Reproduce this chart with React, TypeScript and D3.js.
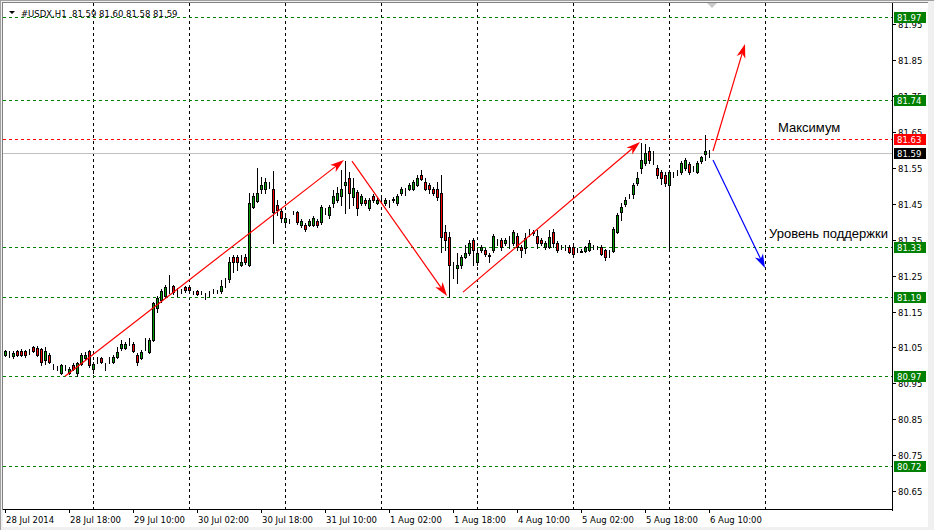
import React from "react";
import * as d3 from "d3";

const openP = [81.029,81.035,81.026,81.040,81.040,81.040,81.037,81.051,81.048,81.046,81.015,81.029,80.996,80.990,80.979,80.990,80.979,81.001,80.979,81.004,81.021,81.040,80.990,81.015,81.021,81.001,81.015,81.010,81.023,81.048,81.048,81.068,81.060,81.029,81.021,81.051,81.037,81.071,81.160,81.182,81.193,81.210,81.221,81.204,81.207,81.218,81.218,81.202,81.207,81.202,81.193,81.202,81.207,81.204,81.207,81.229,81.241,81.302,81.302,81.280,81.302,81.280,81.441,81.458,81.491,81.491,81.502,81.491,81.447,81.430,81.399,81.399,81.424,81.427,81.391,81.391,81.391,81.391,81.402,81.399,81.427,81.419,81.452,81.461,81.472,81.502,81.522,81.469,81.483,81.452,81.461,81.438,81.472,81.452,81.458,81.452,81.452,81.461,81.452,81.480,81.483,81.491,81.491,81.502,81.530,81.511,81.502,81.491,81.491,81.480,81.371,81.357,81.271,81.271,81.280,81.302,81.313,81.349,81.288,81.321,81.321,81.307,81.321,81.343,81.349,81.341,81.338,81.341,81.360,81.330,81.327,81.371,81.371,81.360,81.349,81.330,81.330,81.371,81.341,81.330,81.330,81.330,81.330,81.321,81.318,81.318,81.321,81.330,81.327,81.330,81.321,81.310,81.318,81.371,81.427,81.449,81.472,81.477,81.508,81.550,81.564,81.597,81.564,81.550,81.538,81.530,81.502,81.530,81.538,81.538,81.550,81.561,81.550,81.538,81.569,81.589,81.590];
const highP = [81.043,81.040,81.040,81.043,81.046,81.043,81.046,81.054,81.054,81.048,81.051,81.035,81.004,80.999,81.004,81.001,80.996,81.007,81.010,81.035,81.037,81.043,81.010,81.023,81.023,81.007,81.023,81.029,81.051,81.071,81.065,81.076,81.065,81.035,81.043,81.076,81.076,81.177,81.193,81.213,81.224,81.252,81.224,81.216,81.213,81.221,81.221,81.207,81.210,81.207,81.202,81.207,81.213,81.210,81.238,81.243,81.302,81.307,81.307,81.307,81.310,81.480,81.480,81.550,81.525,81.522,81.511,81.541,81.461,81.438,81.416,81.408,81.430,81.430,81.408,81.397,81.408,81.416,81.408,81.447,81.438,81.447,81.488,81.497,81.544,81.569,81.538,81.522,81.488,81.477,81.466,81.466,81.477,81.466,81.466,81.466,81.461,81.469,81.477,81.497,81.494,81.508,81.516,81.530,81.544,81.522,81.508,81.497,81.511,81.530,81.391,81.371,81.288,81.313,81.307,81.335,81.349,81.355,81.327,81.335,81.327,81.313,81.366,81.352,81.355,81.355,81.360,81.377,81.369,81.335,81.369,81.380,81.377,81.377,81.355,81.346,81.377,81.380,81.346,81.335,81.335,81.335,81.332,81.327,81.324,81.332,81.349,81.335,81.332,81.335,81.324,81.321,81.385,81.424,81.452,81.469,81.477,81.508,81.538,81.619,81.616,81.608,81.597,81.558,81.544,81.538,81.544,81.538,81.544,81.569,81.578,81.566,81.555,81.569,81.583,81.641,81.600];
const lowP = [81.026,81.023,81.021,81.026,81.026,81.023,81.032,81.037,81.026,81.001,81.004,81.007,80.990,80.987,80.976,80.987,80.976,80.987,80.970,81.001,81.018,80.996,80.979,81.007,81.007,80.987,81.007,81.007,81.021,81.043,81.046,81.057,81.037,81.001,81.018,81.043,81.035,81.068,81.149,81.177,81.190,81.202,81.199,81.193,81.202,81.204,81.207,81.199,81.196,81.199,81.185,81.193,81.202,81.202,81.202,81.218,81.232,81.260,81.266,81.277,81.282,81.277,81.438,81.455,81.480,81.480,81.494,81.341,81.419,81.399,81.394,81.397,81.422,81.394,81.385,81.374,81.388,81.388,81.385,81.394,81.422,81.410,81.441,81.455,81.447,81.424,81.438,81.447,81.419,81.447,81.447,81.433,81.455,81.449,81.452,81.447,81.441,81.455,81.447,81.474,81.474,81.488,81.488,81.499,81.516,81.488,81.480,81.474,81.461,81.316,81.321,81.190,81.243,81.229,81.271,81.299,81.307,81.280,81.280,81.316,81.305,81.288,81.316,81.335,81.321,81.335,81.327,81.335,81.321,81.302,81.313,81.360,81.363,81.327,81.335,81.324,81.327,81.330,81.316,81.324,81.321,81.313,81.307,81.316,81.316,81.316,81.318,81.324,81.324,81.307,81.294,81.302,81.316,81.369,81.405,81.444,81.466,81.466,81.502,81.536,81.558,81.564,81.561,81.522,81.505,81.499,81.327,81.525,81.530,81.533,81.544,81.533,81.541,81.536,81.564,81.572,81.580];
const closeP = [81.040,81.034,81.035,81.029,81.029,81.029,81.038,81.040,81.029,81.010,81.040,81.010,80.995,80.991,81.001,80.989,80.990,80.990,81.007,81.029,81.029,81.001,81.004,81.014,81.010,81.000,81.016,81.023,81.037,81.060,81.060,81.067,81.040,81.010,81.037,81.052,81.071,81.174,81.188,81.207,81.218,81.211,81.204,81.205,81.206,81.210,81.210,81.201,81.199,81.203,81.194,81.201,81.208,81.205,81.221,81.230,81.288,81.288,81.288,81.288,81.288,81.452,81.472,81.480,81.502,81.511,81.503,81.427,81.433,81.410,81.410,81.400,81.425,81.399,81.402,81.380,81.402,81.410,81.391,81.441,81.428,81.441,81.472,81.480,81.491,81.511,81.480,81.494,81.438,81.472,81.452,81.461,81.461,81.461,81.459,81.461,81.453,81.462,81.472,81.491,81.484,81.502,81.511,81.522,81.519,81.491,81.491,81.480,81.469,81.357,81.349,81.280,81.270,81.280,81.302,81.313,81.341,81.321,81.313,81.330,81.310,81.306,81.360,81.344,81.330,81.349,81.339,81.371,81.330,81.321,81.355,81.372,81.370,81.341,81.341,81.341,81.357,81.341,81.321,81.329,81.331,81.316,81.310,81.320,81.317,81.330,81.341,81.331,81.326,81.310,81.302,81.311,81.380,81.419,81.441,81.461,81.473,81.502,81.522,81.572,81.591,81.572,81.563,81.530,81.522,81.508,81.538,81.531,81.539,81.564,81.572,81.538,81.549,81.564,81.580,81.597,81.590];

const timeLabels = ["28 Jul 2014","28 Jul 18:00","29 Jul 10:00","30 Jul 02:00","30 Jul 18:00","31 Jul 10:00","1 Aug 02:00","1 Aug 18:00","4 Aug 10:00","5 Aug 02:00","5 Aug 18:00","6 Aug 10:00"];
const timeLabelBars = [0,16,32,48,64,80,96,112,128,144,160,176];
const gridBars = [22,46,70,94,118,142,166,190];
const priceTicks = [81.95,81.85,81.75,81.65,81.55,81.45,81.35,81.25,81.15,81.05,80.95,80.85,80.75,80.65];

const supportLevels = [81.97,81.74,81.33,81.19,80.97,80.72];
const maxLevel = 81.63;
const bidPrice = 81.59;

const arrowBar1 = [15, 86.75, 114.5, 177, 177];
const arrowPrice1 = [80.970, 81.569, 81.204, 81.597, 81.572];
const arrowBar2 = [84.75, 110.5, 158.75, 185, 190];
const arrowPrice2 = [81.572, 81.193, 81.622, 81.895, 81.271];
const arrowColors = ["#ff0000","#ff0000","#ff0000","#ff0000","#0000ff"];

const noteTexts = ["Максимум", "Уровень поддержки"];
const noteBars = [193.25, 191];
const notePrices = [81.650, 81.355];

const header = "#USDX,H1  81.59 81.60 81.58 81.59";

const W = 934, H = 530;
const left = 3, top = 3, plotRight = 892, plotBottom = 510;
const AX_FONT = "'DejaVu Sans', sans-serif";

export default function App() {
  const x = d3.scaleLinear().domain([0, 176]).range([5, 709]);
  const y = d3.scaleLinear().domain([80.72, 81.97]).range([466, 17]);
  const py = (p: number) => Math.round(y(p));

  const arrow = (i: number) => {
    const x1 = x(arrowBar1[i]), y1 = y(arrowPrice1[i]);
    const x2 = x(arrowBar2[i]), y2 = y(arrowPrice2[i]);
    const dx = x2 - x1, dy = y2 - y1;
    const len = Math.hypot(dx, dy);
    const ux = dx / len, uy = dy / len;
    const nx = -uy, ny = ux;
    const L = 14, Wd = 4.5;
    const bx = x2 - ux * L, by = y2 - uy * L;
    const mx = x2 - ux * L * 0.72, my = y2 - uy * L * 0.72;
    const pts = [
      [x2, y2], [bx + nx * Wd, by + ny * Wd], [mx, my], [bx - nx * Wd, by - ny * Wd],
    ].map((p) => p.join(",")).join(" ");
    return (
      <g key={"a" + i}>
        <line x1={x1} y1={y1} x2={mx} y2={my} stroke={arrowColors[i]} strokeWidth={1.2} />
        <polygon points={pts} fill={arrowColors[i]} />
      </g>
    );
  };

  const labelBox = (p: number, bg: string, key: string) => {
    const cy = py(p);
    return (
      <g key={key}>
        <rect x={894} y={cy - 5} width={32} height={11} fill={bg} />
        <text x={897} y={cy + 3.5} fill="#ffffff" fontSize={8.5} fontFamily={AX_FONT}>{p.toFixed(2)}</text>
      </g>
    );
  };

  return (
    <svg width={W} height={H} style={{ position: "absolute", left: 0, top: 0, display: "block" }}>
      <rect x={0} y={0} width={W} height={H} fill="#f0f0f0" />
      <rect x={left} y={top} width={928 - left} height={527 - top} fill="#ffffff" />
      <line x1={0.5} y1={0} x2={0.5} y2={H} stroke="#a0a0a0" />
      <line x1={0} y1={0.5} x2={W} y2={0.5} stroke="#a0a0a0" />
      <line x1={2.5} y1={2} x2={2.5} y2={plotBottom} stroke="#808080" />
      <line x1={2} y1={2.5} x2={928} y2={2.5} stroke="#808080" />

      {/* vertical grid */}
      {gridBars.map((b) => (
        <line key={"g" + b} x1={Math.round(x(b)) + 0.5} x2={Math.round(x(b)) + 0.5} y1={top} y2={plotBottom}
          stroke="#000000" strokeDasharray="3,3" />
      ))}

      {/* levels */}
      {supportLevels.map((p) => (
        <line key={"s" + p} x1={left} x2={plotRight} y1={py(p) + 0.5} y2={py(p) + 0.5}
          stroke="#008000" strokeDasharray="3,3" />
      ))}
      <line x1={left} x2={plotRight} y1={py(maxLevel) + 0.5} y2={py(maxLevel) + 0.5} stroke="#ff0000" strokeDasharray="3,3" />
      <line x1={left} x2={plotRight} y1={py(bidPrice) + 0.5} y2={py(bidPrice) + 0.5} stroke="#c0c0c0" />

      {/* candles */}
      {openP.map((o, i) => {
        const c = closeP[i];
        const cx = Math.round(x(i));
        const yt = py(Math.max(o, c)) + 0.5;
        const yb = py(Math.min(o, c)) + 0.5;
        const bull = c >= o;
        return (
          <g key={"c" + i}>
            <line x1={cx + 0.5} x2={cx + 0.5} y1={py(highP[i])} y2={py(lowP[i]) + 1} stroke="#000000" />
            <rect x={cx - 0.5} y={yt} width={2} height={yb - yt} fill={bull ? "#00a000" : "#ff0000"} stroke="#000000" strokeWidth={1} />
          </g>
        );
      })}

      {/* arrows */}
      {arrowBar1.map((_, i) => arrow(i))}

      {/* notes */}
      {noteTexts.map((t, i) => (
        <text key={"n" + i} x={x(noteBars[i])} y={y(notePrices[i])} fontSize={13} fontFamily="'Liberation Sans', Arial, sans-serif" fill="#000000">{t}</text>
      ))}

      {/* shift marker */}
      <polygon points="707,3 717,3 712,8" fill="#c8c8c8" />

      {/* header */}
      <polygon points="9,11 15,11 12,14" fill="#000000" />
      <text x={21} y={17} fontSize={8.5} fontFamily={AX_FONT} fill="#000000" style={{ whiteSpace: "pre" }}>{header}</text>

      {/* axes lines */}
      <line x1={plotRight + 0.5} x2={plotRight + 0.5} y1={top} y2={plotBottom + 1} stroke="#000000" />
      <line x1={left} x2={plotRight + 1} y1={plotBottom - 0.5} y2={plotBottom - 0.5} stroke="#000000" />

      {/* price ticks */}
      {priceTicks.map((p) => (
        <g key={"t" + p}>
          <line x1={plotRight + 1} x2={plotRight + 4} y1={py(p) + 0.5} y2={py(p) + 0.5} stroke="#000000" />
          <text x={898} y={py(p) + 3.5} fontSize={8.5} fontFamily={AX_FONT} fill="#000000">{p.toFixed(2)}</text>
        </g>
      ))}
      {supportLevels.map((p) => labelBox(p, "#008000", "lb" + p))}
      {labelBox(maxLevel, "#ff0000", "lbmax")}
      {labelBox(bidPrice, "#000000", "lbbid")}

      {/* time ticks */}
      {gridBars.map((b) => (
        <line key={"gt" + b} x1={Math.round(x(b)) + 0.5} x2={Math.round(x(b)) + 0.5} y1={plotBottom - 3} y2={plotBottom} stroke="#000000" />
      ))}
      {timeLabelBars.map((b, i) => (
        <g key={"tl" + b}>
          <line x1={Math.round(x(b)) + 0.5} x2={Math.round(x(b)) + 0.5} y1={plotBottom} y2={plotBottom + 3} stroke="#000000" />
          <text x={Math.round(x(b)) + 1} y={523} fontSize={8.5} fontFamily={AX_FONT} fill="#000000">{timeLabels[i]}</text>
        </g>
      ))}
    </svg>
  );
}
